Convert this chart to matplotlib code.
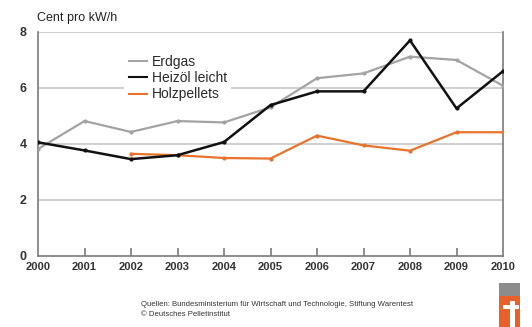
import matplotlib
matplotlib.use("Agg")
import matplotlib.pyplot as plt
from matplotlib.patches import Rectangle
from matplotlib.lines import Line2D

years = [2000, 2001, 2002, 2003, 2004, 2005, 2006, 2007, 2008, 2009, 2010]
erdgas = [3.82, 4.82, 4.43, 4.82, 4.77, 5.31, 6.35, 6.52, 7.12, 7.0, 6.08]
heizoel = [4.06, 3.77, 3.46, 3.6, 4.07, 5.39, 5.88, 5.88, 7.7, 5.27, 6.6]
pellet_years = [2002, 2003, 2004, 2005, 2006, 2007, 2008, 2009, 2010]
pellets = [3.65, 3.6, 3.5, 3.48, 4.3, 3.95, 3.76, 4.42, 4.42]
yticks = [0, 2, 4, 6, 8]
series_names = ['Erdgas', 'Heizöl leicht', 'Holzpellets']
colors = ['#a3a3a3', '#111111', '#e8732c']

plt.rcParams['font.family'] = ['Liberation Sans', 'DejaVu Sans']

fig = plt.figure(figsize=(5.32, 3.27), dpi=100)
ax = fig.add_axes([38/532, 71/327, 465/532, 224/327])

ax.set_xlim(2000, 2010)
ax.set_ylim(0, 8)
for y in [2, 4, 6, 8]:
    ax.axhline(y, color='#c8c8c8', lw=1.2, zorder=0)

ax.plot(years, erdgas, color=colors[0], lw=1.6, marker='o', ms=2, zorder=3)
ax.plot(years, heizoel, color=colors[1], lw=1.8, marker='o', ms=2, zorder=4)
ax.plot(pellet_years, pellets, color=colors[2], lw=1.6, marker='o', ms=2, zorder=3)

for s in ['left', 'bottom', 'right']:
    ax.spines[s].set_color('#7a7a7a')
    ax.spines[s].set_linewidth(1.2)
ax.spines['top'].set_visible(False)

ax.set_xticks(years)
ax.set_xticklabels([str(y) for y in years], fontsize=8, fontweight='bold', color='#333333')
ax.set_yticks(yticks)
ax.set_yticklabels([str(y) for y in yticks], fontsize=9, fontweight='bold', color='#333333')
ax.tick_params(axis='x', direction='in', length=6, width=1.2, color='#7a7a7a', pad=4)
ax.tick_params(axis='y', length=0, pad=8)
for t in ax.xaxis.get_major_ticks():
    t.tick2line.set_visible(False)
ax.xaxis.get_major_ticks()[0].tick1line.set_visible(False)
ax.xaxis.get_major_ticks()[-1].tick1line.set_visible(False)

handles = [Line2D([], [], color=c, lw=1.5) for c in colors]
leg = ax.legend(handles, series_names, loc='upper left', bbox_to_anchor=(0.186, 0.915), fontsize=10,
                frameon=True, handlelength=1.3, handletextpad=0.35,
                labelspacing=0.15, borderpad=0.3, fancybox=False, borderaxespad=0)
leg.get_frame().set_edgecolor('none')
leg.get_frame().set_facecolor('white')
leg.get_frame().set_alpha(1)
for t in leg.get_texts():
    t.set_color('#2a2a2a')

fig.text(37/532, 1 - 18/327, 'Cent pro kW/h', fontsize=9, color='#222222', va='center')

fig.text(141/532, 1 - 305/327, 'Quellen: Bundesministerium für Wirtschaft und Technologie, Stiftung Warentest',
         fontsize=5.6, color='#333333', va='center')
fig.text(141/532, 1 - 315/327, '© Deutsches Pelletinstitut', fontsize=5.6, color='#333333', va='center')

# logo
def px_rect(x0, y0, x1, y1, color):
    fig.patches.append(Rectangle((x0/532, 1 - y1/327), (x1 - x0)/532, (y1 - y0)/327,
                                 transform=fig.transFigure, facecolor=color, edgecolor='none'))

px_rect(499, 283, 520, 296, '#8c8c8c')
px_rect(499, 296, 520, 327, '#e8602a')
px_rect(510, 301, 515, 327, 'white')
px_rect(503, 305, 519, 309, 'white')

fig.savefig('out.png', dpi=100)
